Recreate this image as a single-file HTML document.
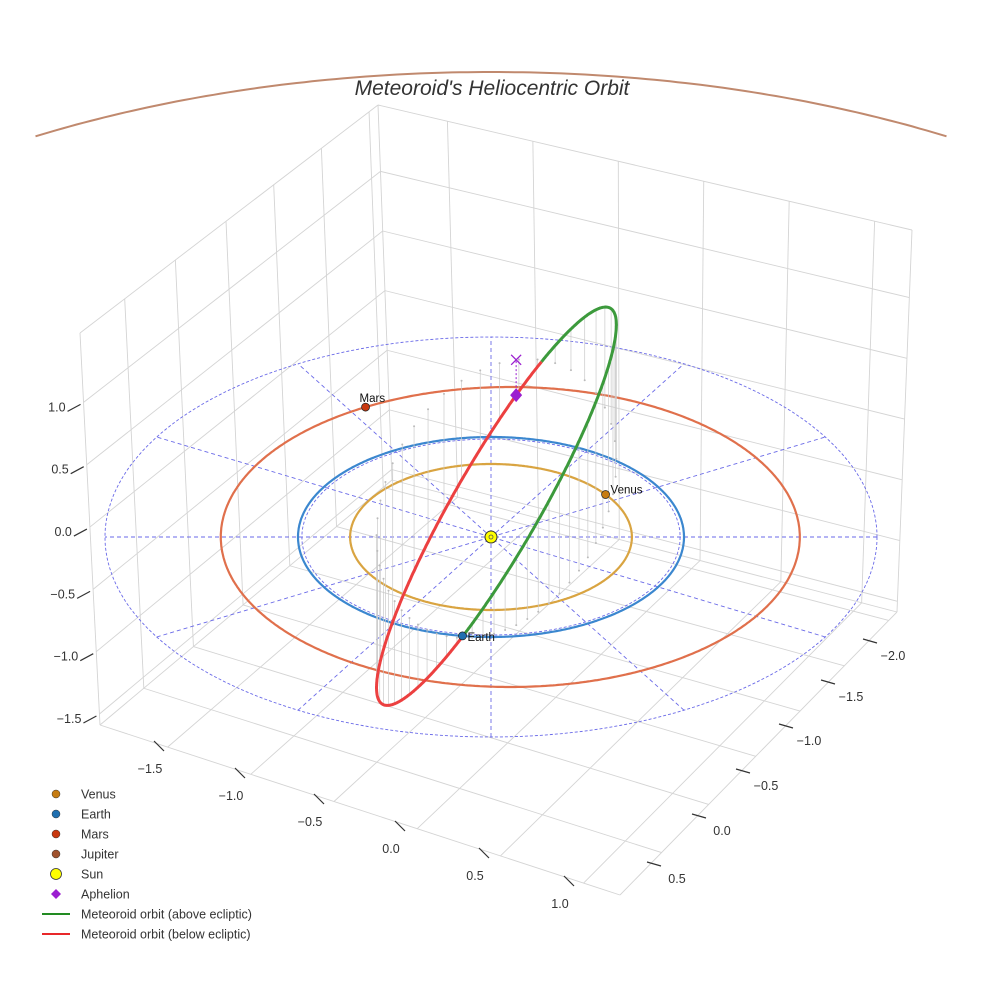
<!DOCTYPE html>
<html><head><meta charset="utf-8"><style>
html,body{margin:0;padding:0;background:#fff}
svg{display:block;font-family:"Liberation Sans",sans-serif}
</style></head><body>
<svg id="chart" width="984" height="984" viewBox="0 0 984 984">
<g id="box"></g>
<g id="plane"></g>
<g id="orbits"></g>
<g id="drops"></g>
<g id="met"></g>
<g id="marks"></g>
<text x="492" y="95" text-anchor="middle" font-size="21" font-style="italic" fill="#333">Meteoroid's Heliocentric Orbit</text>
<g id="legend" font-size="12.5" fill="#333"></g>
</svg>
<script>
// ---- data ----
const planetNames = ["Venus", "Earth", "Mars", "Jupiter"];
const orbitRadius = [0.73, 1.0, 1.5, 4.65];
const orbitCenterX = [0, 0, 0.1, 0];
const orbitColors = ["#d9a441", "#3b87cf", "#e0704c", "#c0896e"];
const planetAngleDeg = [-35.6, 98.5, -120, null];
const planetFill = ["#c67c12", "#1f6fb0", "#c8380f", "#a0522d"];
// meteoroid orbital elements
const semiLatus = [1.3];
const eccentricity = [0.277];
const inclinationDeg = [64];
const argPeriDeg = [10];
const nodeDir = [-0.15, 0.989];
const zTicks = [1.0, 0.5, 0.0, -0.5, -1.0, -1.5];
const xTicks = [-2.0, -1.5, -1.0, -0.5, 0.0, 0.5];
const yTicks = [-1.5, -1.0, -0.5, 0.0, 0.5, 1.0];

const NS = "http://www.w3.org/2000/svg";
function mk(tag, attrs, parent) {
  const e = document.createElementNS(NS, tag);
  for (const k in attrs) e.setAttribute(k, attrs[k]);
  parent.appendChild(e);
  return e;
}
const CX = 491, CY = 537, S = 193, SY = 100, SZ = 126;
function P(x, y, z) { return [CX + S * x, CY + SY * y - SZ * z]; }
const pts = a => a.map(p => p[0].toFixed(1) + "," + p[1].toFixed(1)).join(" ");
function lerp(a, b, t) { return [a[0] + (b[0] - a[0]) * t, a[1] + (b[1] - a[1]) * t]; }

// ---- box ----
const box = document.getElementById("box");
const TL = [80, 333], L = [100, 725], T = [378, 105], B = [392, 480], TR = [912, 230], R = [897, 612], F = [620, 895];
const gc = "#d4d4d4";
function gl(a, b, name) {
  const l = mk("line", {x1: a[0], y1: a[1], x2: b[0], y2: b[1], stroke: gc, "stroke-width": 0.9}, box);
  
  
}
[[TL, L], [T, B], [TR, R], [TL, T], [T, TR], [L, B], [B, R], [L, F], [F, R]].forEach(e => gl(e[0], e[1], "box-edge"));
const lf = [.15, .32, .49, .65, .81, .97];
lf.forEach(f => { gl(lerp(L, B, f), lerp(TL, T, f), "left-wall-gridline"); gl(lerp(L, B, f), lerp(F, R, f), "floor-gridline"); });
const rf = [.13, .29, .45, .61, .77, .93];
rf.forEach(f => { gl(lerp(B, R, f), lerp(T, TR, f), "right-wall-gridline"); gl(lerp(B, R, f), lerp(L, F, f), "floor-gridline"); });
const zf = zTicks.map(z => (0.495 - (z / 0.5) * 0.159));
zf.forEach((g, i) => {
  const a = lerp(TL, L, g), b = lerp(T, B, g), c = lerp(TR, R, g);
  gl(a, b, "left-wall-gridline"); gl(b, c, "right-wall-gridline");
  const t = mk("line", {x1: a[0] - 3, y1: a[1] + 2, x2: a[0] - 16, y2: a[1] + 9, stroke: "#333", "stroke-width": 1.2}, box);
  
  
  const tx = mk("text", {x: a[0] - 18, y: a[1] + 9, "text-anchor": "end", "font-size": 12.5, fill: "#333"}, box);
  tx.textContent = zTicks[i].toFixed(1).replace("-", "\u2212");
  
  
});
const yPos = [[150, 773], [231, 800], [310, 826], [391, 853], [475, 880], [560, 908]];
yTicks.forEach((v, i) => {
  const p = yPos[i];
  const t = mk("line", {x1: p[0] + 4, y1: p[1] - 32, x2: p[0] + 14, y2: p[1] - 22, stroke: "#333", "stroke-width": 1.2}, box);
  
  
  const tx = mk("text", {x: p[0], y: p[1], "text-anchor": "middle", "font-size": 12.5, fill: "#333"}, box);
  tx.textContent = v.toFixed(1).replace("-", "\u2212");
  
  
});
const xPos = [[893, 660], [851, 701], [809, 745], [766, 790], [722, 835], [677, 883]];
xTicks.forEach((v, i) => {
  const p = xPos[i];
  const t = mk("line", {x1: p[0] - 30, y1: p[1] - 21, x2: p[0] - 16, y2: p[1] - 17, stroke: "#333", "stroke-width": 1.2}, box);
  
  
  const tx = mk("text", {x: p[0], y: p[1], "text-anchor": "middle", "font-size": 12.5, fill: "#333"}, box);
  tx.textContent = v.toFixed(1).replace("-", "\u2212");
  
  
});

// ---- ecliptic plane ----
const plane = document.getElementById("plane");
function circle(r, cx, n) { const a = []; for (let k = 0; k <= n; k++) { const t = 2 * Math.PI * k / n; a.push(P(cx + r * Math.cos(t), r * Math.sin(t), 0)); } return a; }
let e = mk("polyline", {points: pts(circle(2, 0, 240)), fill: "none", stroke: "#6a6ae8", "stroke-width": 0.9, "stroke-dasharray": "3,2"}, plane);


e = mk("polyline", {points: pts(circle(0.98, 0, 200)), fill: "none", stroke: "#6a6ae8", "stroke-width": 0.9, "stroke-dasharray": "3,2"}, plane);


for (let k = 0; k < 6; k++) {
  const t = k * Math.PI / 6;
  const a = P(2 * Math.cos(t), 2 * Math.sin(t), 0), b = P(-2 * Math.cos(t), -2 * Math.sin(t), 0);
  e = mk("line", {x1: a[0], y1: a[1], x2: b[0], y2: b[1], stroke: "#6a6ae8", "stroke-width": 0.9, "stroke-dasharray": "4,3"}, plane);
  
  
}

// ---- planet orbits ----
const orbits = document.getElementById("orbits");
planetNames.forEach((n, i) => {
  let c = circle(orbitRadius[i], orbitCenterX[i], 720);
  if (n === "Jupiter") c = c.filter(p => p[1] < CY && p[0] >= 30 && p[0] <= 953).sort((a, b) => a[0] - b[0]);
  const o = mk("polyline", {points: pts(c), fill: "none", stroke: orbitColors[i], "stroke-width": n === "Jupiter" ? 2 : 2.2}, orbits);
  
  
});

// ---- meteoroid ----
const inc = inclinationDeg[0] * Math.PI / 180, w = argPeriDeg[0] * Math.PI / 180;
const m = [nodeDir[1], -nodeDir[0]];
function met(th) {
  const r = semiLatus[0] / (1 + eccentricity[0] * Math.cos(th - w));
  const u = r * Math.cos(th), v = r * Math.sin(th);
  return [u * nodeDir[0] + v * Math.cos(inc) * m[0], u * nodeDir[1] + v * Math.cos(inc) * m[1], v * Math.sin(inc)];
}
const drops = document.getElementById("drops");
for (let d = 0; d < 360; d += 7) {
  const p = met(d * Math.PI / 180);
  const a = P(p[0], p[1], p[2]), b = P(p[0], p[1], 0);
  const l = mk("line", {x1: a[0], y1: a[1], x2: b[0], y2: b[1], stroke: "#cacaca", "stroke-width": 0.7}, drops);
  
  
  const c = mk("circle", {cx: b[0], cy: b[1], r: 1, fill: "#bbb"}, drops);
  
  
}
const metG = document.getElementById("met");
let seg = [], segUp = null;
function flush() {
  if (seg.length > 1) {
    const pl = mk("polyline", {points: pts(seg), fill: "none", stroke: segUp ? "#3c9a3c" : "#ec4040", "stroke-width": 3, "stroke-linejoin": "round"}, metG);
    
    
  }
}
for (let k = 0; k <= 720; k++) {
  const p = met(2 * Math.PI * k / 720);
  const up = p[2] >= 0;
  const s = P(p[0], p[1], p[2]);
  if (segUp !== null && up !== segUp) { seg.push(s); flush(); seg = [s]; } else seg.push(s);
  segUp = up;
}
flush();

// ---- markers ----
const marks = document.getElementById("marks");
planetNames.forEach((n, i) => {
  if (planetAngleDeg[i] === null) return;
  const t = planetAngleDeg[i] * Math.PI / 180;
  const p = P(orbitCenterX[i] + orbitRadius[i] * Math.cos(t), orbitRadius[i] * Math.sin(t), 0);
  const c = mk("circle", {cx: p[0], cy: p[1], r: 4, fill: planetFill[i], stroke: "#222", "stroke-width": 0.7}, marks);
  
  
  const tx = mk("text", {x: n === "Mars" ? p[0] - 6 : p[0] + 5, y: n === "Mars" ? p[1] - 5 : p[1] + (n === "Earth" ? 5 : -1), "font-size": 11.5, fill: "#111"}, marks);
  tx.textContent = n;
  
  
});
let sc = P(0, 0, 0);
e = mk("circle", {cx: sc[0], cy: sc[1], r: 6, fill: "#ffff00", stroke: "#333", "stroke-width": 1}, marks);


e = mk("circle", {cx: sc[0], cy: sc[1], r: 2, fill: "none", stroke: "#555", "stroke-width": 0.8}, marks);


const ap = met(Math.PI + w), aS = P(ap[0], ap[1], ap[2]), aX = P(ap[0], ap[1], 0);
e = mk("line", {x1: aS[0], y1: aS[1], x2: aX[0], y2: aX[1], stroke: "#9b1fd0", "stroke-width": 1, "stroke-dasharray": "2,2"}, marks);


e = mk("path", {d: `M${aX[0]-5},${aX[1]-5}L${aX[0]+5},${aX[1]+5}M${aX[0]+5},${aX[1]-5}L${aX[0]-5},${aX[1]+5}`, stroke: "#9b1fd0", "stroke-width": 1.3}, marks);


e = mk("path", {d: `M${aS[0]},${aS[1]-7}L${aS[0]+6},${aS[1]}L${aS[0]},${aS[1]+7}L${aS[0]-6},${aS[1]}Z`, fill: "#9b1fd0"}, marks);



// ---- legend ----
const lg = document.getElementById("legend");
const legendLabels = ["Venus", "Earth", "Mars", "Jupiter", "Sun", "Aphelion", "Meteoroid orbit (above ecliptic)", "Meteoroid orbit (below ecliptic)"];
legendLabels.forEach((lab, i) => {
  const y = 794 + 20 * i;
  let s;
  if (i < 4) s = mk("circle", {cx: 56, cy: y, r: 4, fill: planetFill[i], stroke: "#333", "stroke-width": 0.5}, lg);
  else if (i === 4) s = mk("circle", {cx: 56, cy: y, r: 5.5, fill: "#ffff00", stroke: "#333", "stroke-width": 0.8}, lg);
  else if (i === 5) s = mk("path", {d: `M56,${y-5}L61,${y}L56,${y+5}L51,${y}Z`, fill: "#9b1fd0"}, lg);
  else s = mk("line", {x1: 42, y1: y, x2: 70, y2: y, stroke: i === 6 ? "#228b22" : "#e8282a", "stroke-width": 2}, lg);
  
  
  const t = mk("text", {x: 81, y: y + 4.5}, lg);
  t.textContent = lab;
  
  
});
</script>
</body></html>
